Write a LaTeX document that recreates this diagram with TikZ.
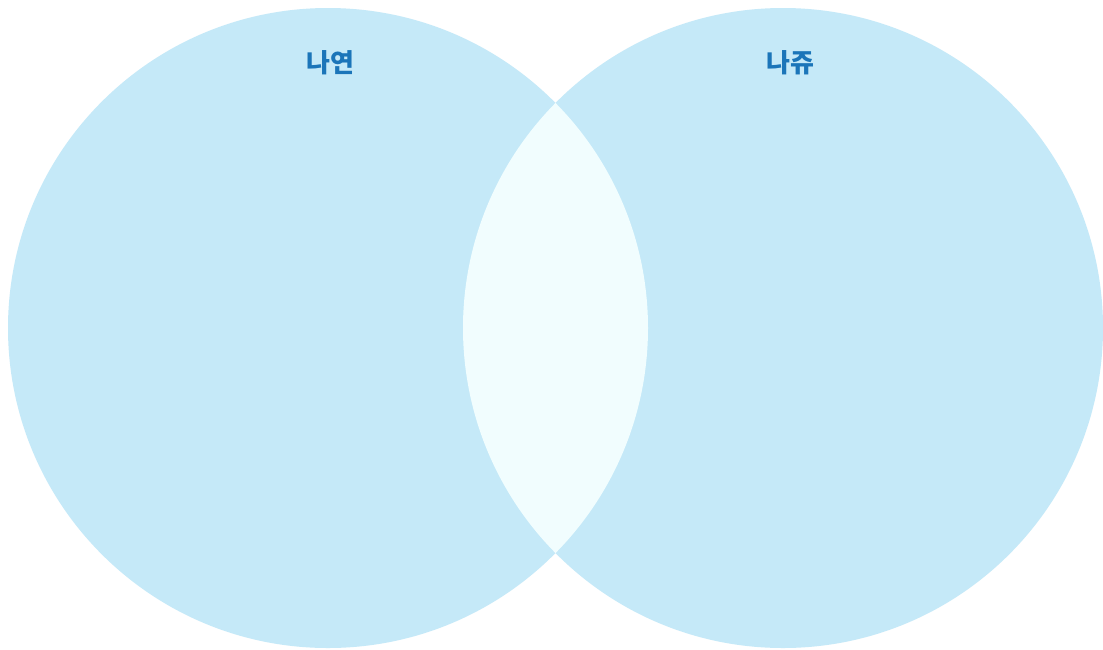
\documentclass[tikz,border=0pt]{standalone}
\usepackage{fontspec}
\newfontfamily\kr{Noto Sans CJK KR}
\definecolor{circfill}{HTML}{C5E9F8}
\definecolor{lensfill}{HTML}{F1FDFE}
\definecolor{labelblue}{HTML}{1B75B9}
\tikzset{
  setcircle/.style={fill=circfill, draw=none},
  setlabel/.style={text=labelblue, font=\kr\bfseries\fontsize{26}{30}\selectfont, inner sep=0pt, anchor=center}
}
\begin{document}
\begin{tikzpicture}[x=1pt,y=-1pt]
\useasboundingbox (0,0) rectangle (1103,649);
\fill[white] (0,0) rectangle (1103,649);
\fill[setcircle] (328,328) circle (320);
\fill[setcircle] (783,328) circle (320);
\begin{scope}
  \clip (328,328) circle (320);
  \fill[lensfill] (783,328) circle (320);
\end{scope}
\node[setlabel] (A) at (330,62.5) {나연};
\node[setlabel] (B) at (790,62.5) {나쥬};
\end{tikzpicture}
\end{document}
